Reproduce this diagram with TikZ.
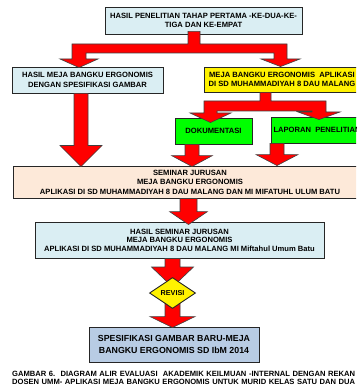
\documentclass[tikz,border=0pt]{standalone}
\usepackage{fontspec}
\setmainfont{Liberation Sans}
\usetikzlibrary{shapes.geometric,calc}
\definecolor{lblue}{HTML}{DAEEF3}
\definecolor{peach}{HTML}{FDE9D9}
\definecolor{fblue}{HTML}{B8CCE4}
\definecolor{bgreen}{HTML}{00FF00}
\tikzset{
  box/.style={draw=black!85, line width=0.9pt, inner sep=0pt, align=center,
    font=\fontsize{7.6}{9.5}\selectfont\bfseries},
  redarr/.style={fill=red, draw=black!75, line width=0.6pt, line join=miter},
}
% #1 x centre, #2 start anchor, #3 target anchor, #4 stem half width,
% #5 head half width, #6 head length, #7 overlap of tip into target
\newcommand\darrow[7]{%
  \draw[redarr] let \p1=(#2), \p2=(#3) in
    (#1-#4,\y1) -- (#1+#4,\y1) -- (#1+#4,\y2-#7+#6) -- (#1+#5,\y2-#7+#6)
    -- (#1,\y2-#7) -- (#1-#5,\y2-#7+#6) -- (#1-#4,\y2-#7+#6) -- cycle;}
\begin{document}
\begin{tikzpicture}[x=1pt,y=-1pt]
\path[use as bounding box] (0,0) rectangle (356,390);
\clip (0,0) rectangle (356,390);
\fill[white] (0,0) rectangle (356,390);

% boxes
\node[box, fill=lblue, minimum width=197pt, minimum height=27pt] (top) at (203.5,20.5)
  {HASIL PENELITIAN TAHAP PERTAMA -KE-DUA-KE-\\TIGA DAN KE-EMPAT};
\node[box, fill=lblue, minimum width=151pt, minimum height=26pt] (left) at (87.5,80)
  {HASIL MEJA BANGKU ERGONOMIS\\DENGAN SPESIFIKASI GAMBAR};
\node[box, fill=yellow, minimum width=156pt, minimum height=25pt] (yel) at (282,79.5)
  {MEJA BANGKU ERGONOMIS\ \ APLIKASI\\DI SD MUHAMMADIYAH 8 DAU MALANG};
\node[box, fill=bgreen, minimum width=77pt, minimum height=26pt] (dok) at (213.5,131)
  {DOKUMENTASI};
\node[box, fill=bgreen, minimum width=92pt, minimum height=26pt] (lap) at (317,130)
  {LAPORAN\ \ PENELITIAN};
\node[box, fill=peach, minimum width=354pt, minimum height=32pt] (sem) at (190,182)
  {SEMINAR JURUSAN\\MEJA BANGKU ERGONOMIS\\APLIKASI DI SD MUHAMMADIYAH 8 DAU MALANG DAN MI MIFATUHL ULUM BATU};
\node[box, fill=lblue, minimum width=289pt, minimum height=36pt,
      font=\fontsize{7.6}{8.5}\selectfont\bfseries] (hs) at (179.5,240)
  {HASIL SEMINAR JURUSAN\\MEJA BANGKU ERGONOMIS\\APLIKASI DI SD MUHAMMADIYAH 8 DAU MALANG MI Miftahul Umum Batu};
\node[box, fill=fblue, minimum width=170pt, minimum height=35pt,
      font=\fontsize{8.8}{11.5}\selectfont\bfseries] (fin) at (174,344.5)
  {SPESIFIKASI GAMBAR BARU-MEJA\\BANGKU ERGONOMIS SD IbM 2014};

% branching connector from the top box
\draw[redarr] let \p1=(top.south), \p2=(left.north), \p3=(yel.north) in
  (188,\y1+3) -- (188,44) -- (72,44) -- (72,59) -- (60,59) -- (79,\y2-1) -- (98,59)
  -- (86,59) -- (86,53) -- (274,53) -- (274,59) -- (261,59) -- (280.5,\y3) -- (300,59)
  -- (287,59) -- (287,44) -- (200,44) -- (200,\y1+3) -- cycle;

% branching connector from the yellow box
\draw[redarr] let \p1=(yel.south), \p2=(dok.north), \p3=(lap.north) in
  (260,\y1) -- (260,101) -- (204,101) -- (204,113) -- (190,113) -- (210.5,\y2-5)
  -- (231,113) -- (217,113) -- (217,111) -- (312,111) -- (312,112) -- (298,112)
  -- (319,\y3-3) -- (340,112) -- (326,112) -- (326,101) -- (271,101) -- (271,\y1) -- cycle;

% straight block arrows
\darrow{81}{left.south}{sem.north}{7}{21}{21}{1}
\darrow{192}{dok.south}{sem.north}{7}{20.5}{11}{1}
\darrow{277}{lap.south}{sem.north}{7}{21}{11}{0}
\darrow{188.5}{sem.south}{hs.north}{8.5}{19}{13}{3}

\coordinate (dc) at (172.5,293);
\darrow{172.5}{hs.south}{dc}{7.5}{21}{20}{-6}
\darrow{172.5}{dc}{fin.north}{7.5}{22.5}{11}{1}

\node[diamond, draw=black!85, line width=0.9pt, fill=yellow, inner sep=0pt,
      minimum width=46pt, minimum height=31pt, aspect=1.5,
      font=\fontsize{7.2}{8}\selectfont\bfseries] (dia) at (dc) {REVISI};

% caption
\node[inner sep=0pt, anchor=north west, align=left,
      font=\fontsize{7.6}{8}\selectfont\bfseries] (cap) at (12,371)
  {\makebox[343pt][s]{GAMBAR 6.\ \ DIAGRAM ALIR EVALUASI\ \ AKADEMIK KEILMUAN -INTERNAL DENGAN REKAN}\\
   \makebox[343pt][s]{DOSEN UMM- APLIKASI MEJA BANGKU ERGONOMIS UNTUK MURID KELAS SATU DAN DUA}};
\end{tikzpicture}
\end{document}
